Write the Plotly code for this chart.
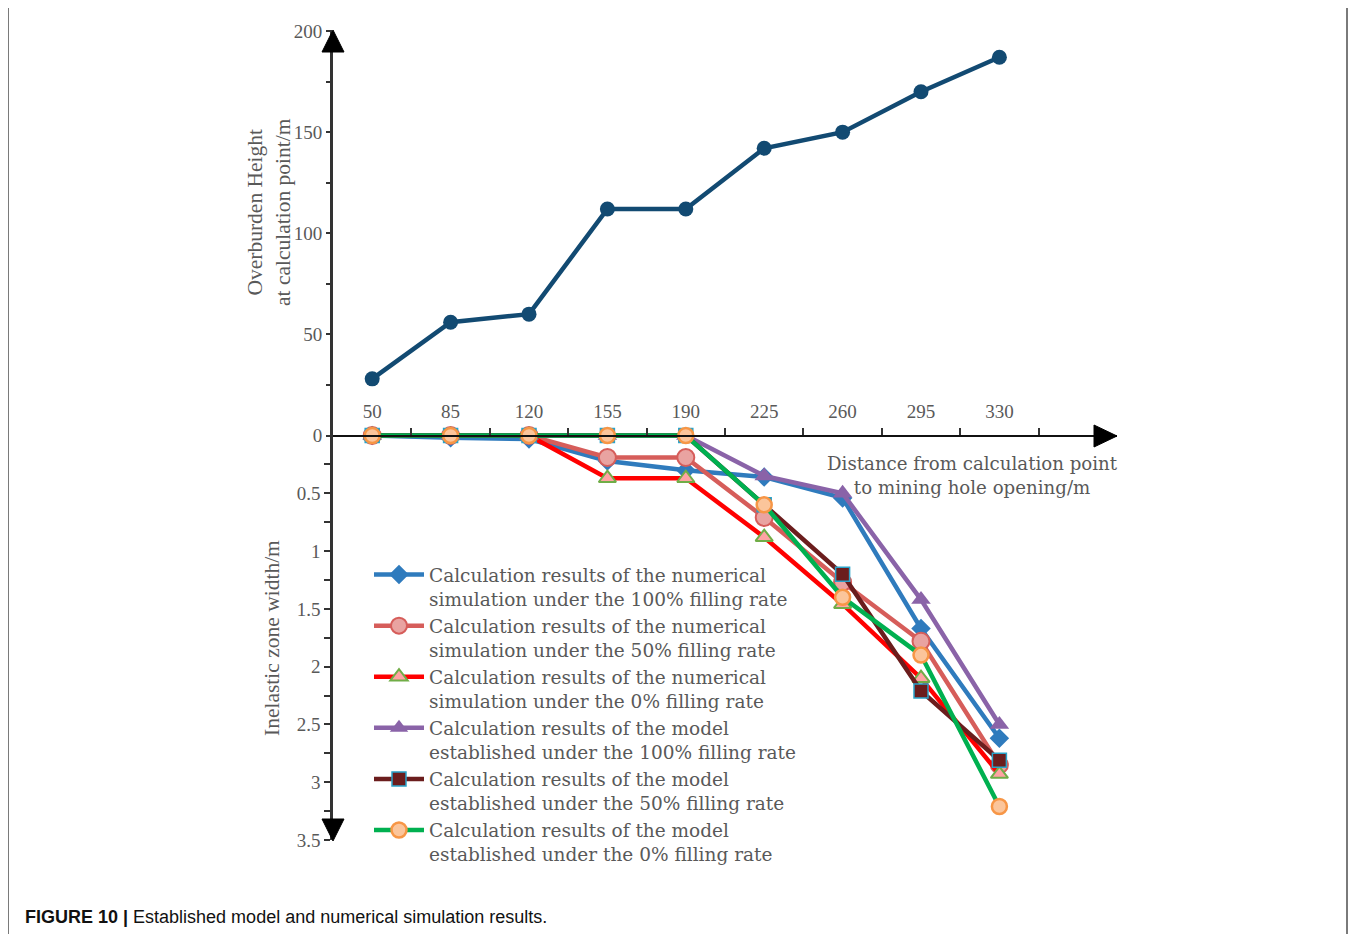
import plotly.graph_objects as go

# ---------------- data ----------------
distance = [50, 85, 120, 155, 190, 225, 260, 295, 330]
overburden_height = [28, 56, 60, 112, 112, 142, 150, 170, 187]

num_100 = [0, 0.02, 0.03, 0.22, 0.30, 0.36, 0.54, 1.67, 2.62]
num_50 = [0, 0, 0, 0.19, 0.19, 0.71, 1.27, 1.78, 2.85]
num_0 = [0, 0, 0, 0.37, 0.37, 0.88, 1.46, 2.10, 2.93]
mod_100 = [0, 0, 0, 0, 0, 0.35, 0.50, 1.42, 2.50]
mod_50 = [0, 0, 0, 0, 0, 0.60, 1.20, 2.21, 2.81]
mod_0 = [0, 0, 0, 0, 0, 0.60, 1.40, 1.90, 3.21]

series_names = [
    "Calculation results of the numerical<br>simulation under the 100% filling rate",
    "Calculation results of the numerical<br>simulation under the 50% filling rate",
    "Calculation results of the numerical<br>simulation under the 0% filling rate",
    "Calculation results of the model<br>established under the 100% filling rate",
    "Calculation results of the model<br>established under the 50% filling rate",
    "Calculation results of the model<br>established under the 0% filling rate",
]

x_labels = ["50", "85", "120", "155", "190", "225", "260", "295", "330"]
x_minor_ticks = [67.5, 102.5, 137.5, 172.5, 207.5, 242.5, 277.5, 312.5, 347.5]
top_tickvals = [0, 25, 50, 75, 100, 125, 150, 175, 200]
top_ticktext = ["0", "", "50", "", "100", "", "150", "", "200"]
bot_tickvals = [0.25, 0.5, 0.75, 1, 1.25, 1.5, 1.75, 2, 2.25, 2.5, 2.75, 3, 3.25, 3.5]
bot_ticktext = ["", "0.5", "", "1", "", "1.5", "", "2", "", "2.5", "", "3", "", "3.5"]

# ---------------- styling ----------------
SERIF = "Liberation Serif, Times New Roman, serif"
WIDE_SERIF = "DejaVu Serif, serif"
GRAY = "#595959"
AX = "#333333"

# page offset (browser body margin)
OFF = 8
FW, FH = 1356 - OFF, 934 - OFF
# plot area in page pixels
L, R, T, B = 333, 1117, 31, 840
W, H = R - L, B - T


def px(xp):
    return (xp - L) / W


def py(yp):
    return (B - yp) / H


fig = go.Figure()

fig.add_trace(go.Scatter(
    x=distance, y=overburden_height, mode="lines+markers",
    line=dict(color="#124a72", width=4.5),
    marker=dict(symbol="circle", size=15, color="#124a72"),
    showlegend=False, xaxis="x", yaxis="y", cliponaxis=False,
))

styles = [
    dict(data=num_100, line="#2f7bbd", sym="diamond", size=15, fill="#2f7bbd", mline="#2f7bbd", mw=0),
    dict(data=num_50, line="#d65d5a", sym="circle", size=17, fill="#e9a3a1", mline="#d65d5a", mw=2),
    dict(data=num_0, line="#ff0000", sym="triangle-up", size=15, fill="#ffa3a3", mline="#70ad47", mw=2),
    dict(data=mod_100, line="#8a63a8", sym="triangle-up", size=17, fill="#8a63a8", mline="#8a63a8", mw=0),
    dict(data=mod_50, line="#6b1d1d", sym="square", size=14, fill="#6b1d1d", mline="#2aa3c9", mw=1.5),
    dict(data=mod_0, line="#00b050", sym="circle", size=15, fill="#fbc59b", mline="#f79646", mw=2.5),
]

for name, st in zip(series_names, styles):
    fig.add_trace(go.Scatter(
        x=distance, y=st["data"], mode="lines+markers", name=name,
        line=dict(color=st["line"], width=4.5),
        marker=dict(symbol=st["sym"], size=st["size"], color=st["fill"],
                    line=dict(color=st["mline"], width=st["mw"])),
        xaxis="x", yaxis="y2", cliponaxis=False,
    ))

fig.update_layout(
    width=FW, height=FH,
    margin=dict(l=L - OFF, r=FW - (R - OFF), t=T - OFF, b=FH - (B - OFF), pad=0),
    paper_bgcolor="white", plot_bgcolor="rgba(0,0,0,0)",
    font=dict(family=SERIF, size=19, color=GRAY),
    xaxis=dict(
        range=[32.5, 382.5], anchor="free", position=0.5, side="top",
        tickmode="array", tickvals=distance, ticktext=x_labels,
        ticks="outside", ticklen=9, tickcolor="rgba(0,0,0,0)",
        minor=dict(tickmode="array", tickvals=x_minor_ticks, ticks="outside",
                   ticklen=7, tickwidth=1.5, tickcolor=AX),
        showline=True, linecolor="#111111", linewidth=2,
        showgrid=False, zeroline=False,
        tickfont=dict(family=SERIF, size=19, color=GRAY),
    ),
    yaxis=dict(
        range=[-200, 200], domain=[0, 1], anchor="x", side="left",
        tickmode="array", tickvals=top_tickvals, ticktext=top_ticktext,
        ticks="outside", ticklen=6, tickwidth=1.5, tickcolor=AX,
        showline=False, showgrid=False, zeroline=False,
        tickfont=dict(family=SERIF, size=19, color=GRAY),
    ),
    yaxis2=dict(
        range=[3.5, -3.5], domain=[0, 1], anchor="x", side="left", overlaying="y",
        tickmode="array", tickvals=bot_tickvals, ticktext=bot_ticktext,
        ticks="outside", ticklen=6, tickwidth=1.5, tickcolor=AX,
        showline=True, linecolor=AX, linewidth=2.5,
        showgrid=False, zeroline=False,
        tickfont=dict(family=SERIF, size=19, color=GRAY),
    ),
    legend=dict(
        x=px(369), y=py(556), xanchor="left", yanchor="top",
        bgcolor="rgba(0,0,0,0)", borderwidth=0,
        font=dict(family=WIDE_SERIF, size=18.5, color=GRAY),
        traceorder="normal", valign="top", itemwidth=50,
        tracegroupgap=0,
    ),
)

# axis arrowheads and frame (decorations)
shapes = [
    dict(type="path", xref="paper", yref="paper",
         path=f"M {px(322)} {py(52)} L {px(344)} {py(52)} L {px(333)} {py(30)} Z",
         fillcolor="black", line=dict(color="black", width=1)),
    dict(type="path", xref="paper", yref="paper",
         path=f"M {px(322)} {py(819)} L {px(344)} {py(819)} L {px(333)} {py(841)} Z",
         fillcolor="black", line=dict(color="black", width=1)),
    dict(type="path", xref="paper", yref="paper",
         path=f"M {px(1094)} {py(425)} L {px(1094)} {py(447)} L {px(1117)} {py(436)} Z",
         fillcolor="black", line=dict(color="black", width=1)),
    dict(type="path", xref="paper", yref="paper",
         path=f"M {px(8)} {py(960)} L {px(8)} {py(7)} L {px(1347)} {py(7)} L {px(1347)} {py(960)}",
         line=dict(color="#7a7a7a", width=2)),
]
fig.update_layout(shapes=shapes)

annotations = [
    dict(text="Overburden Height<br>at calculation point/m", xref="paper", yref="paper",
         x=px(269), y=py(212), textangle=-90, showarrow=False,
         font=dict(family=SERIF, size=21.5, color=GRAY), xanchor="center", yanchor="middle"),
    dict(text="Inelastic zone width/m", xref="paper", yref="paper",
         x=px(272), y=py(638), textangle=-90, showarrow=False,
         font=dict(family=SERIF, size=21.5, color=GRAY), xanchor="center", yanchor="middle"),
    dict(text="Distance from calculation point<br>to mining hole opening/m", xref="paper", yref="paper",
         x=px(972), y=py(475), showarrow=False, align="center",
         font=dict(family=WIDE_SERIF, size=18.2, color=GRAY), xanchor="center", yanchor="middle"),
    dict(text="<b>FIGURE 10 |</b> Established model and numerical simulation results.",
         xref="paper", yref="paper", x=px(23), y=py(917), showarrow=False,
         font=dict(family="Liberation Sans, Arial, sans-serif", size=18, color="#111111"),
         xanchor="left", yanchor="middle"),
]
fig.update_layout(annotations=annotations)

fig.write_html("out.html")
